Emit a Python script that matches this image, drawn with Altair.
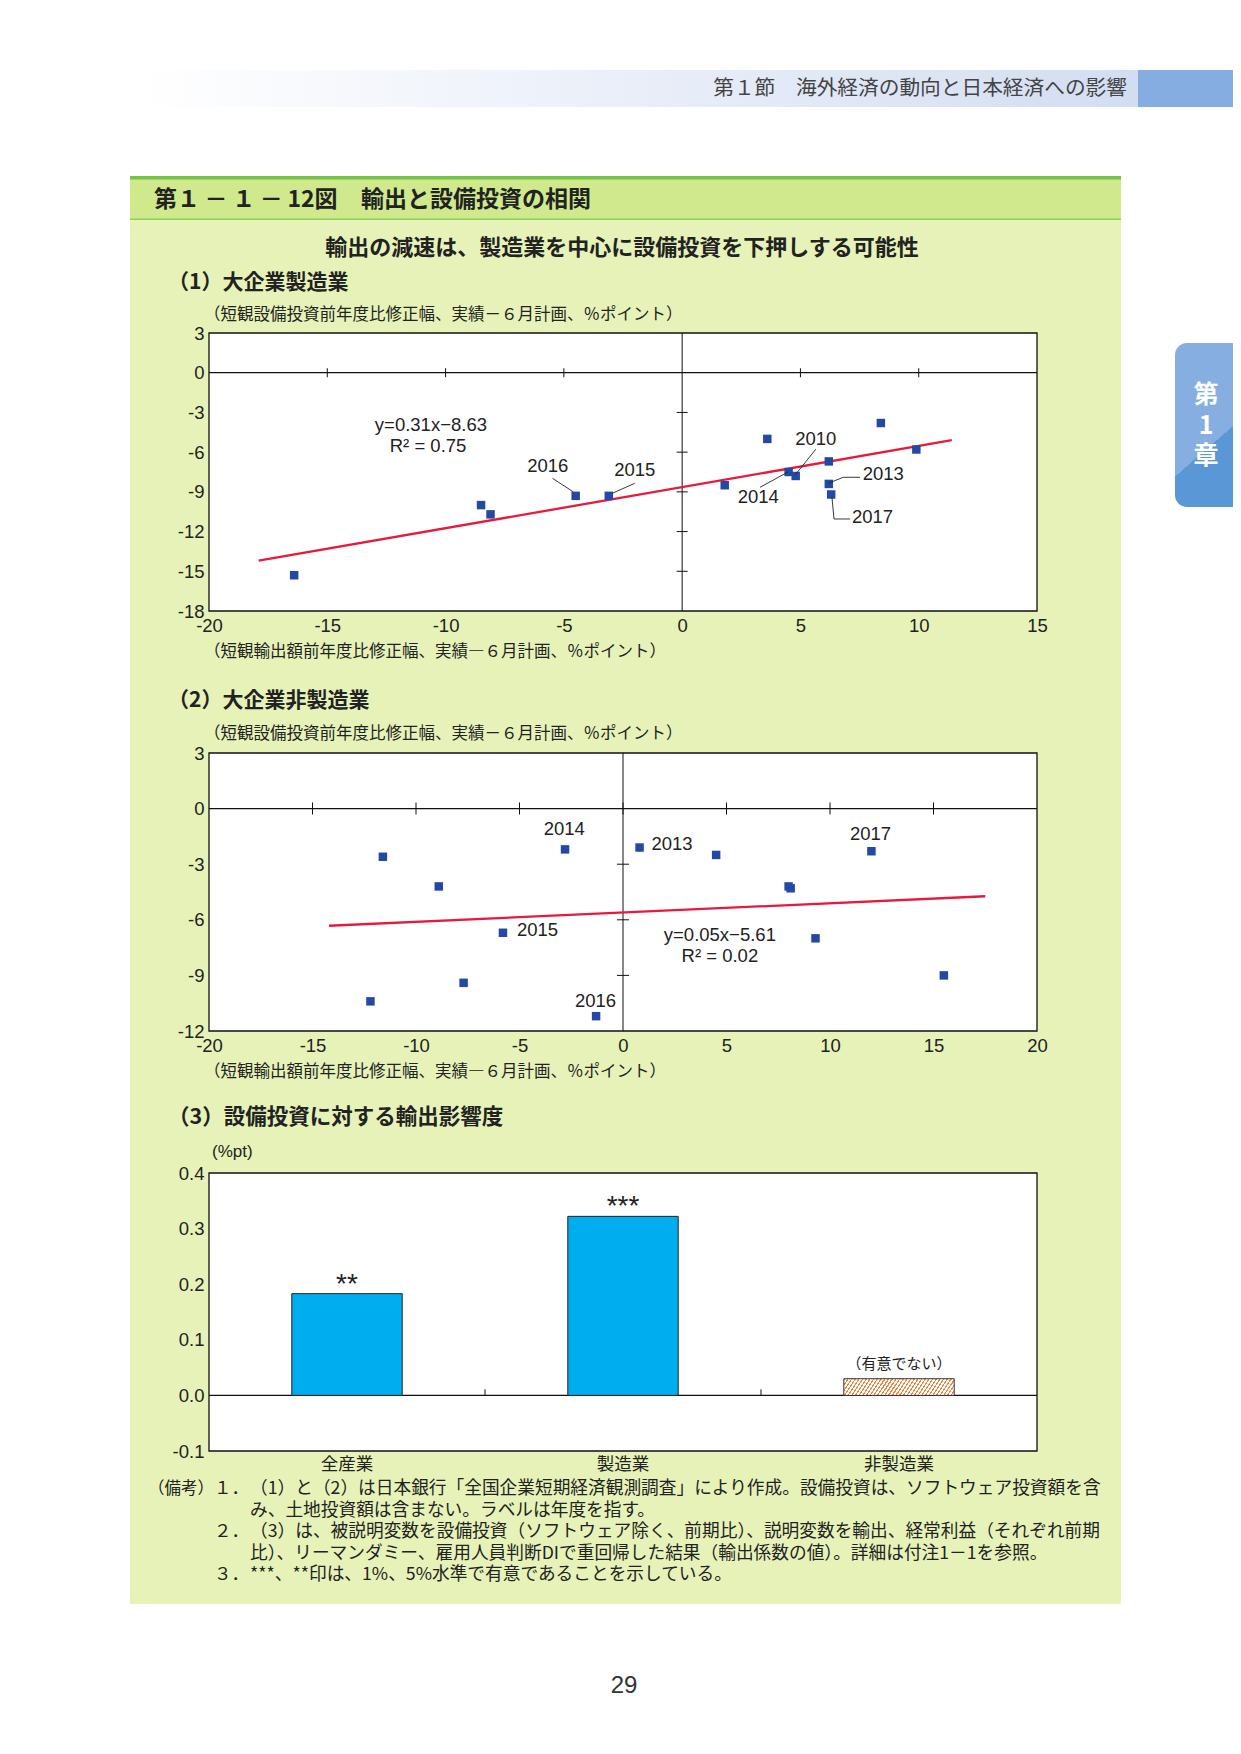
import altair as alt
import pandas as pd

# ---------------- data ----------------
# (1) large manufacturers: export revision (x) vs capex revision (y)
mfg_x = [-16.4, -8.5, -8.1, -4.5, -3.1, 1.8, 3.6, 4.5, 4.8, 6.2, 6.2, 6.3, 8.4, 9.9]
mfg_y = [-15.3, -10.0, -10.7, -9.3, -9.3, -8.5, -5.0, -7.5, -7.8, -6.7, -8.4, -9.2, -3.8, -5.8]
mfg_fit_x = [-17.9, 11.4]
mfg_fit_y = [-14.2, -5.1]
mfg_lab_text = ["2016", "2015", "2010", "2014", "2013", "2017", "y=0.31x−8.63", "R² = 0.75"]
mfg_lab_x = [-5.68, -2.0, 5.65, 3.22, 8.50, 8.05, -10.62, -10.74]
mfg_lab_y = [-7.05, -7.35, -5.0, -9.41, -7.65, -10.92, -3.97, -5.54]
mfg_lead_id = ["2016", "2016", "2015", "2015", "2010", "2010", "2014", "2014",
               "2013", "2013", "2013", "2017", "2017", "2017"]
mfg_lead_x = [-5.48, -4.61, -2.0, -2.95, 5.65, 4.78, 3.29, 4.49, 7.52, 6.81, 6.18, 7.10, 6.42, 6.33]
mfg_lead_y = [-7.98, -8.99, -8.35, -9.11, -5.78, -7.72, -8.66, -7.48, -7.90, -7.90, -8.35, -11.05, -11.05, -9.37]

# (2) large non-manufacturers
non_x = [-12.2, -11.6, -8.9, -7.7, -5.8, -2.8, -1.3, 0.8, 4.5, 8.0, 8.1, 9.3, 12.0, 15.5]
non_y = [-10.4, -2.6, -4.2, -9.4, -6.7, -2.2, -11.2, -2.1, -2.5, -4.2, -4.3, -7.0, -2.3, -9.0]
non_fit_x = [-14.2, 17.5]
non_fit_y = [-6.32, -4.73]
non_lab_text = ["2014", "2013", "2017", "2015", "2016", "y=0.05x−5.61", "R² = 0.02"]
non_lab_x = [-2.84, 2.37, 11.96, -4.13, -1.33, 4.68, 4.68]
non_lab_y = [-1.10, -1.91, -1.37, -6.55, -10.36, -6.82, -7.94]

# (3) export effect on capex
bar_cats = ["全産業", "製造業", "非製造業"]
bar_vals = [0.183, 0.322, 0.03]
bar_sig = ["**", "***", "（有意でない）"]

mfg_xticks = list(range(-20, 16, 5))
mfg_yticks = list(range(-18, 4, 3))
mfg_zero_xt = [-15, -10, -5, 5, 10]
mfg_zero_yt = [-3, -6, -9, -12, -15]
non_xticks = list(range(-20, 21, 5))
non_yticks = list(range(-12, 4, 3))
non_zero_xt = [-15, -10, -5, 0, 5, 10, 15]
non_zero_yt = [-3, -6, -9]
bar_yticks = [-0.1, 0.0, 0.1, 0.2, 0.3, 0.4]

note_lines = [
    "（1）と（2）は日本銀行「全国企業短期経済観測調査」により作成。設備投資は、ソフトウェア投資額を含",
    "み、土地投資額は含まない。ラベルは年度を指す。",
    "（3）は、被説明変数を設備投資（ソフトウェア除く、前期比）、説明変数を輸出、経常利益（それぞれ前期",
    "比）、リーマンダミー、雇用人員判断DIで重回帰した結果（輸出係数の値）。詳細は付注1－1を参照。",
    "***、**印は、1%、5%水準で有意であることを示している。",
]

# ---------------- styling ----------------
W, H = 828, 278
JP = "Noto Sans CJK JP"
LAT = "Liberation Sans"
INK = "#222222"
ONE = pd.DataFrame({"k": [0]})


def vtext(txt, px, py, ox, oy, size, align="left", weight="normal", color=INK, font=JP, **kw):
    return alt.Chart(ONE).mark_text(
        text=txt, align=align, baseline="middle", fontSize=size,
        fontWeight=weight, color=color, font=font, **kw
    ).encode(x=alt.value(px - ox), y=alt.value(py - oy))


def vrect(px1, px2, py1, py2, ox, oy, fill, **kw):
    return alt.Chart(ONE).mark_rect(fill=fill, opacity=1, **kw).encode(
        x=alt.value(px1 - ox), x2=alt.value(px2 - ox),
        y=alt.value(py1 - oy), y2=alt.value(py2 - oy))


def num_axis(vals, fmt="d"):
    return alt.Axis(values=vals, title=None, ticks=False, domain=False, grid=False,
                    labelFont=LAT, labelFontSize=18.5, labelColor=INK, labelPadding=5,
                    labelFlush=False, labelOverlap=False, labelBound=False,
                    labelExpr="replace(datum.label, '−', '-')",
                    zindex=1, format=fmt)


def scatter_panel(xs, ys, fx, fy, lt, lx, ly, xdom, ydom, xt, yt, zxt, zyt, tlen,
                  lead=None, deco=None):
    sx = alt.Scale(domain=xdom, nice=False, zero=False)
    sy = alt.Scale(domain=ydom, nice=False, zero=False)
    axx = num_axis(xt)
    axy = num_axis(yt)

    def X(f):
        return alt.X(f, type="quantitative", scale=sx, axis=axx)

    def Y(f):
        return alt.Y(f, type="quantitative", scale=sy, axis=axy)

    frame_df = pd.DataFrame({"x": [xdom[0]], "x2": [xdom[1]], "y": [ydom[0]], "y2": [ydom[1]]})
    frame = alt.Chart(frame_df).mark_rect(fill="white", stroke="#111111", strokeWidth=1.3,
                                          opacity=1).encode(
        x=X("x"), x2="x2", y=Y("y"), y2="y2")
    hz = alt.Chart(pd.DataFrame({"y": [0]})).mark_rule(color="#111111", strokeWidth=1.2).encode(y=Y("y"))
    vz = alt.Chart(pd.DataFrame({"x": [0]})).mark_rule(color="#111111", strokeWidth=1.0).encode(x=X("x"))
    tx = alt.Chart(pd.DataFrame({"x": zxt, "y": [0] * len(zxt)})).mark_tick(
        orient="vertical", size=tlen[0], thickness=1, color="#111111", opacity=1).encode(x=X("x"), y=Y("y"))
    ty = alt.Chart(pd.DataFrame({"x": [0] * len(zyt), "y": zyt})).mark_tick(
        orient="horizontal", size=tlen[1], thickness=1, color="#111111", opacity=1).encode(x=X("x"), y=Y("y"))
    fit = alt.Chart(pd.DataFrame({"x": fx, "y": fy})).mark_line(
        color="#e8193c", strokeWidth=2.3).encode(x=X("x"), y=Y("y"))
    pts = alt.Chart(pd.DataFrame({"x": xs, "y": ys})).mark_square(
        size=72, color="#2449a5", opacity=1).encode(x=X("x"), y=Y("y"))
    labs = alt.Chart(pd.DataFrame({"t": lt, "x": lx, "y": ly})).mark_text(
        font=LAT, fontSize=18.5, color=INK, align="center", baseline="middle").encode(
        x=X("x"), y=Y("y"), text="t:N")
    layers = list(deco or []) + [frame, hz, vz, tx, ty, fit, pts]
    if lead is not None:
        lid, lxx, lyy = lead
        ldf = pd.DataFrame({"id": lid, "x": lxx, "y": lyy, "o": list(range(len(lid)))})
        layers.append(alt.Chart(ldf).mark_line(color=INK, strokeWidth=0.9).encode(
            x=X("x"), y=Y("y"), detail="id:N", order="o:Q"))
    layers.append(labs)
    return alt.layer(*layers).properties(width=W, height=H)


# ---------------- panel 1 (origin at page 209,333) ----------------
ox, oy = 209, 333
header_grad = {"gradient": "linear", "x1": 0, "y1": 0, "x2": 1, "y2": 0,
               "stops": [{"offset": 0, "color": "#ffffff"}, {"offset": 1, "color": "#d3ddf2"}]}
tab_grad = {"gradient": "linear", "x1": 0, "y1": 0, "x2": 0.308, "y2": 1,
            "stops": [{"offset": 0, "color": "#86aee1"}, {"offset": 0.744, "color": "#86aee1"},
                      {"offset": 0.744, "color": "#5a97d6"}, {"offset": 1, "color": "#5a97d6"}]}
deco1 = [
    vrect(8, 1233, 8, 1746, ox, oy, "#ffffff"),
    vrect(141, 1138, 70, 107, ox, oy, header_grad),
    vrect(1138, 1233, 70, 107, ox, oy, "#86ade1"),
    vtext("第１節　海外経済の動向と日本経済への影響", 1127, 89, ox, oy, 20.7, align="right", color="#444444"),
    vrect(130, 1121, 177, 1604, ox, oy, "#e6f2b8"),
    vrect(130, 1121, 179, 219, ox, oy, "#cfe98c"),
    vrect(130, 1121, 176, 179.5, ox, oy, "#74c248"),
    vrect(130, 1121, 218.5, 220, ox, oy, "#8fcf5c"),
    vrect(1175, 1233, 343, 507, ox, oy, tab_grad, cornerRadiusTopLeft=12, cornerRadiusBottomLeft=12),
    vtext(["第", "1", "章"], 1206, 395, ox, oy, 25, align="center", weight="bold",
          color="#ffffff", lineHeight=30.5),
    vtext("第１\u2009－\u2009１\u2009－\u200912図", 154, 200, ox, oy, 23, weight="bold"),
    vtext("輸出と設備投資の相関", 361, 200, ox, oy, 23, weight="bold"),
    vtext("輸出の減速は、製造業を中心に設備投資を下押しする可能性", 622, 248, ox, oy, 22,
          align="center", weight="bold"),
    vtext("（1）大企業製造業", 168, 283, ox, oy, 21, weight="bold"),
    vtext("（短観設備投資前年度比修正幅、実績－６月計画、％ポイント）", 204, 314.5, ox, oy, 16.5),
    vtext("（短観輸出額前年度比修正幅、実績―６月計画、％ポイント）", 204, 652, ox, oy, 16.5),
]
p1 = scatter_panel(mfg_x, mfg_y, mfg_fit_x, mfg_fit_y, mfg_lab_text, mfg_lab_x, mfg_lab_y,
                   [-20, 15], [-18, 3], mfg_xticks, mfg_yticks, mfg_zero_xt, mfg_zero_yt, (9, 11),
                   lead=(mfg_lead_id, mfg_lead_x, mfg_lead_y), deco=deco1)

# ---------------- panel 2 (origin at page 209,753) ----------------
ox, oy = 209, 753
deco2 = [
    vtext("（2）大企業非製造業", 168, 701, ox, oy, 21, weight="bold"),
    vtext("（短観設備投資前年度比修正幅、実績－６月計画、％ポイント）", 204, 734, ox, oy, 16.5),
    vtext("（短観輸出額前年度比修正幅、実績―６月計画、％ポイント）", 204, 1071.5, ox, oy, 16.5),
]
p2 = scatter_panel(non_x, non_y, non_fit_x, non_fit_y, non_lab_text, non_lab_x, non_lab_y,
                   [-20, 20], [-12, 3], non_xticks, non_yticks, non_zero_xt, non_zero_yt, (12, 12),
                   deco=deco2)

# ---------------- panel 3 (origin at page 209,1173) ----------------
ox, oy = 209, 1173
sx3 = alt.Scale(domain=bar_cats, paddingInner=0.6, paddingOuter=0.3)
ax3 = alt.Axis(title=None, ticks=False, domain=False, grid=False, labelAngle=0, labelFont=JP,
               labelFontSize=17.5, labelColor=INK, labelPadding=4, zindex=1)
sy3 = alt.Scale(domain=[-0.1, 0.4], nice=False, zero=False)
ay3 = num_axis(bar_yticks, fmt=".1f")

bar_df = pd.DataFrame({"cat": bar_cats, "val": bar_vals, "sig": bar_sig})
X3 = alt.X("cat:N", scale=sx3, axis=ax3, sort=bar_cats)
Y3 = alt.Y("val:Q", scale=sy3, axis=ay3)

frame3 = alt.Chart(ONE).mark_rect(fill="white", stroke="#111111", strokeWidth=1.3, opacity=1).encode(
    x=alt.value(0), x2=alt.value(W), y=alt.value(0), y2=alt.value(H))
zero3 = alt.Chart(pd.DataFrame({"val": [0.0]})).mark_rule(color="#111111", strokeWidth=1.3).encode(y=Y3)
sep_df = pd.DataFrame({"val": [0.0], "v2": [0.011]})
sep_a = alt.Chart(sep_df).mark_rule(color="#111111", strokeWidth=1).encode(
    x=alt.value(W / 3), y=Y3, y2="v2:Q")
sep_b = alt.Chart(sep_df).mark_rule(color="#111111", strokeWidth=1).encode(
    x=alt.value(2 * W / 3), y=Y3, y2="v2:Q")

solid_bars = alt.Chart(bar_df.iloc[:2]).mark_bar(
    color="#00aeef", stroke="#222222", strokeWidth=1, opacity=1).encode(x=X3, y=Y3)

stops = []
N = 33
for k in range(N):
    a = k / N
    b = (k + 0.38) / N
    c = (k + 1) / N
    stops += [{"offset": round(a, 4), "color": "#f0843a"},
              {"offset": round(b, 4), "color": "#f0843a"},
              {"offset": round(b, 4), "color": "#ffffff"},
              {"offset": round(c, 4), "color": "#ffffff"}]
hatch_grad = {"gradient": "linear", "x1": 0, "y1": 0, "x2": 1.09, "y2": 0.111, "stops": stops}
hatch_bar = alt.Chart(bar_df.iloc[2:]).mark_bar(
    fill=hatch_grad, stroke="#333333", strokeWidth=1, opacity=1).encode(x=X3, y=Y3)

stars = alt.Chart(bar_df.iloc[:2]).mark_text(
    font=LAT, fontSize=28, color=INK, align="center", baseline="alphabetic", dy=-1).encode(
    x=X3, y=Y3, text="sig:N")
note = alt.Chart(bar_df.iloc[2:]).mark_text(
    font=JP, fontSize=15, color=INK, align="center", baseline="alphabetic", dy=-10).encode(
    x=X3, y=Y3, text="sig:N")

deco3 = [
    vtext("（3）設備投資に対する輸出影響度", 168, 1118, ox, oy, 21.5, weight="bold"),
    vtext("(%pt)", 212, 1152, ox, oy, 17, font=LAT),
    vtext("（備考）", 148, 1489, ox, oy, 16.5),
    vtext("１．", 214, 1489, ox, oy, 17.5),
    vtext("２．", 214, 1532, ox, oy, 17.5),
    vtext("３．", 214, 1575, ox, oy, 17.5),
    vtext(note_lines, 250, 1489, ox, oy, 17.7, lineHeight=21.5),
    vtext("29", 624, 1686, ox, oy, 24, align="center", font=LAT, color="#333333"),
]

p3 = alt.layer(frame3, zero3, sep_a, sep_b, solid_bars, hatch_bar, stars, note, *deco3).properties(
    width=W, height=H)

chart = alt.vconcat(p1, p2, p3, spacing=142, bounds="flush").properties(
    padding=0, background="white"
).configure_view(strokeWidth=0)

chart.save("out.html", embed_options={"renderer": "svg", "actions": False})
